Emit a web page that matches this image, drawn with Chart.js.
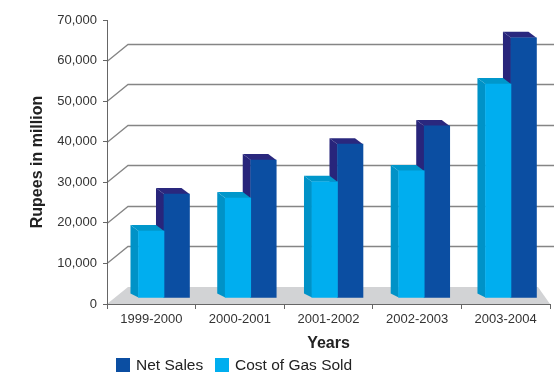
<!DOCTYPE html>
<html>
<head>
<meta charset="utf-8">
<title>Net Sales and Cost of Gas Sold</title>
<script src="https://cdn.jsdelivr.net/npm/chart.js@4/dist/chart.umd.min.js"></script>
<style>
  html, body { margin: 0; padding: 0; background: #fff; }
  canvas { display: block; }
</style>
</head>
<body>
<canvas id="chart" width="554" height="375"></canvas>
<script>
const years = ['1999-2000', '2000-2001', '2001-2002', '2002-2003', '2003-2004'];
const netSales = [25500, 33900, 37800, 42300, 64000];
const costOfGasSold = [16400, 24500, 28500, 31200, 52600];
const yTicks = { min: 0, max: 70000, step: 10000 };

const FONT = "'Liberation Sans', Arial, sans-serif";

// 3D look: back wall goes up-right, bar tops/sides go up-left
const wall = { dx: 21, dy: -17 };
const barDepth = { dx: -8, dy: -6 };

const fmt = v => String(v).replace(/\B(?=(\d{3})+(?!\d))/g, ',');

function poly(ctx, pts) {
    ctx.beginPath();
    ctx.moveTo(pts[0][0], pts[0][1]);
    pts.slice(1).forEach(p => ctx.lineTo(p[0], p[1]));
    ctx.closePath();
    ctx.fill();
}

const threeD = {
    id: 'threeD',
    beforeDraw(chart) {
        const { ctx, chartArea: a, scales: { y } } = chart;
        const y0 = y.getPixelForValue(0);
        ctx.save();
        // floor
        ctx.fillStyle = '#d2d3d5';
        poly(ctx, [[a.left, y0], [a.left + wall.dx, y0 + wall.dy], [a.right - 12, y0 + wall.dy], [a.right, y0]]);
        // back wall gridlines
        ctx.strokeStyle = '#858585';
        ctx.lineWidth = 1.3;
        y.ticks.forEach(t => {
            if (t.value <= 0 || t.value >= y.max) return;
            const py = Math.round(y.getPixelForValue(t.value)) + 0.5;
            ctx.beginPath();
            ctx.moveTo(a.left, py);
            ctx.lineTo(a.left + wall.dx, py + wall.dy);
            ctx.lineTo(chart.width, py + wall.dy);
            ctx.stroke();
        });
        ctx.restore();
    },
    beforeDatasetDraw(chart, args) {
        const ctx = chart.ctx;
        const ds = chart.data.datasets[args.index];
        ctx.save();
        args.meta.data.forEach(bar => {
            const { x, y, base, width } = bar.getProps(['x', 'y', 'base', 'width'], true);
            const l = x - width / 2, r = x + width / 2;
            ctx.fillStyle = ds.sideColor;
            poly(ctx, [[l, y], [l + barDepth.dx, y + barDepth.dy], [l + barDepth.dx, base + barDepth.dy + 2], [l, base]]);
            ctx.fillStyle = ds.topColor;
            poly(ctx, [[l, y], [l + barDepth.dx, y + barDepth.dy], [r + barDepth.dx, y + barDepth.dy], [r, y]]);
        });
        ctx.restore();
    },
    afterDraw(chart) {
        // legend, Net Sales first
        const ctx = chart.ctx;
        const items = [
            { ds: chart.data.datasets[1], x: 116 },
            { ds: chart.data.datasets[0], x: 215 }
        ];
        ctx.save();
        ctx.font = '15.5px ' + FONT;
        ctx.textBaseline = 'middle';
        items.forEach(it => {
            ctx.fillStyle = it.ds.backgroundColor;
            ctx.fillRect(it.x, 358, 14, 14);
            ctx.fillStyle = '#222';
            ctx.fillText(it.ds.label, it.x + 20, 366);
        });
        ctx.restore();
    }
};

const toPoints = arr => arr.map((v, i) => ({ x: i, y: v }));

new Chart(document.getElementById('chart'), {
    type: 'bar',
    data: {
        labels: years,
        datasets: [
            {
                label: 'Cost of Gas Sold',
                data: toPoints(costOfGasSold),
                backgroundColor: '#00aeef',
                sideColor: '#0092c7',
                topColor: '#0097cb',
                xAxisID: 'xb',
                yAxisID: 'yb',
                barThickness: 25.5
            },
            {
                label: 'Net Sales',
                data: toPoints(netSales),
                backgroundColor: '#0b4ea2',
                sideColor: '#28257b',
                topColor: '#2a287e',
                xAxisID: 'xb',
                yAxisID: 'yb',
                barThickness: 25.5
            }
        ]
    },
    options: {
        responsive: false,
        animation: false,
        layout: { padding: { top: 20, right: 4, left: 0, bottom: 0 } },
        plugins: {
            legend: { display: false },
            tooltip: { enabled: false }
        },
        scales: {
            x: {
                type: 'category',
                offset: true,
                grid: { offset: true, drawOnChartArea: false, tickLength: 5, color: '#666' },
                border: { color: '#666' },
                ticks: { padding: 3, color: '#333', font: { size: 13, family: FONT } },
                title: {
                    display: true, text: 'Years', color: '#222',
                    font: { size: 16, weight: 'bold', family: FONT },
                    padding: { top: 0, bottom: 22 }
                },
                afterFit(s) { s.height = 71; }
            },
            y: {
                min: yTicks.min,
                max: yTicks.max,
                ticks: {
                    stepSize: yTicks.step, padding: 6, color: '#333',
                    font: { size: 13, family: FONT },
                    callback: v => fmt(v)
                },
                grid: { drawOnChartArea: false, tickLength: 4, color: '#666' },
                border: { color: '#666' },
                title: {
                    display: true, text: 'Rupees in million', color: '#222',
                    font: { size: 16, weight: 'bold', family: FONT },
                    padding: { top: 28, bottom: 0 }
                },
                afterFit(s) { s.width = 107; }
            },
            // bars sit a little in from the front, so they get their own hidden axes
            xb: { type: 'linear', display: false, offset: false, grid: { offset: false }, min: -0.657, max: 4.45 },
            yb: { type: 'linear', display: false, min: -1602, max: 68398 }
        }
    },
    plugins: [threeD]
});
</script>
</body>
</html>
